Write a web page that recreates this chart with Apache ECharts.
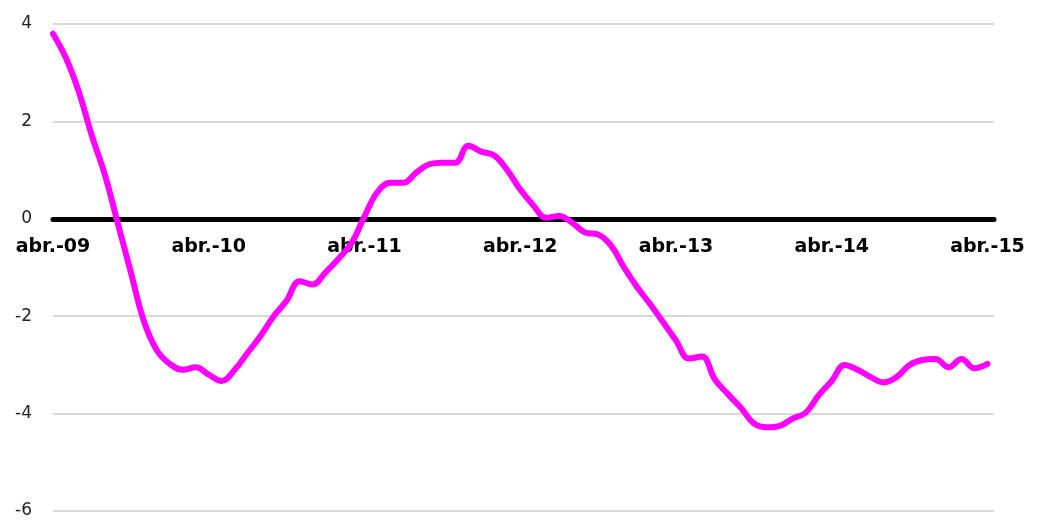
<!DOCTYPE html>
<html>
<head>
<meta charset="utf-8">
<title>abr.-09 - abr.-15</title>
<script src="https://cdn.jsdelivr.net/npm/echarts@6/dist/echarts.min.js"></script>
<style>
html, body { margin: 0; padding: 0; background: #fff; }
#chart { width: 1037px; height: 523px; }
</style>
</head>
<body>
<div id="chart"></div>
<script>
// monthly values, abr.-09 .. abr.-15
var values = [
    3.8, 3.3, 2.6, 1.7, 0.9, -0.1, -1.1, -2.1, -2.7, -2.98, -3.1, -3.05,
    -3.2, -3.33, -3.1, -2.75, -2.4, -2.0, -1.68, -1.28, -1.35, -1.1, -0.82, -0.5,
    0.05, 0.55, 0.74, 0.74, 0.95, 1.12, 1.15, 1.15, 1.5, 1.38, 1.3, 1.0,
    0.6, 0.28, 0.02, 0.06, -0.08, -0.28, -0.32, -0.55, -1.0, -1.4, -1.75, -2.12,
    -2.5, -2.87, -2.83, -3.3, -3.6, -3.88, -4.2, -4.28, -4.25, -4.1, -3.98, -3.62,
    -3.33, -3.0, -3.1, -3.25, -3.36, -3.25, -3.0, -2.9, -2.88, -3.05, -2.88, -3.07,
    -2.98
];
var tickLabels = ['abr.-09', 'abr.-10', 'abr.-11', 'abr.-12', 'abr.-13', 'abr.-14', 'abr.-15'];
var yTicks = [-6, -4, -2, 0, 2, 4];

var seriesData = values.map(function (v, i) { return [i, v]; });

var chartH = 523, gridTop = 24, gridBottom = 12;
var plotH = chartH - gridTop - gridBottom;
// distance from the bottom edge of the grid up to the zero line
var zeroOffset = plotH * (0 - yTicks[0]) / (yTicks[yTicks.length - 1] - yTicks[0]);

echarts.init(document.getElementById('chart')).setOption({
    animation: false,
    grid: {
        left: 53,
        right: 43,
        top: gridTop,
        bottom: gridBottom,
        containLabel: false,
        outerBoundsMode: 'none'
    },
    xAxis: {
        type: 'value',
        position: 'bottom',
        offset: -zeroOffset,
        min: 0,
        max: 72.5,
        interval: 12,
        axisLine: {
            onZero: false,
            lineStyle: { color: '#000', width: 5 }
        },
        axisTick: { show: false },
        splitLine: { show: false },
        axisLabel: {
            showMaxLabel: false,
            margin: 19,
            color: '#000',
            fontFamily: 'DejaVu Sans',
            fontWeight: 'bold',
            fontSize: 19,
            formatter: function (v) {
                return v % 12 === 0 ? (tickLabels[v / 12] || '') : '';
            }
        }
    },
    yAxis: {
        type: 'value',
        min: yTicks[0],
        max: yTicks[yTicks.length - 1],
        interval: 2,
        axisLine: { show: false },
        axisTick: { show: false },
        splitLine: { lineStyle: { color: '#d9d9d9', width: 2 } },
        axisLabel: {
            margin: 21,
            color: '#222',
            fontFamily: 'DejaVu Sans',
            fontSize: 17
        }
    },
    series: [{
        type: 'line',
        data: seriesData,
        smooth: 0.4,
        showSymbol: false,
        zlevel: 1,
        lineStyle: { color: '#ff00ff', width: 6, cap: 'round' }
    }]
});
</script>
</body>
</html>
